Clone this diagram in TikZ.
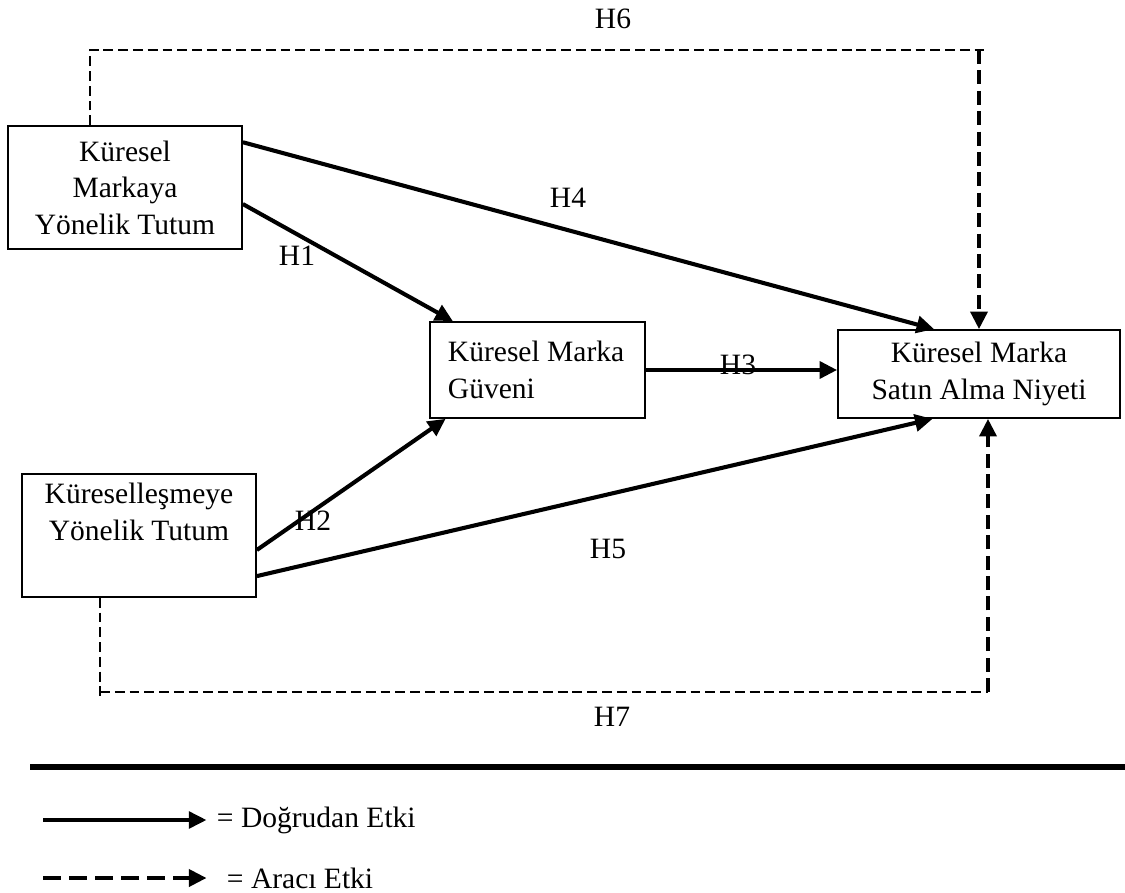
\documentclass[tikz,border=0pt]{standalone}
\usepackage{fontspec}
\setmainfont{Liberation Serif}
\usetikzlibrary{arrows.meta}
\newcommand{\hfont}{\fontsize{21}{26}\selectfont}
\tikzset{Tip/.style={-{Triangle[length=12.5pt, width=12pt]}}}

\begin{document}
\begin{tikzpicture}[x=0.025cm, y=-0.025cm, font=\hfont,
        Box/.style={rectangle, draw=black, line width=1.2pt, inner sep=0pt},
        Direct/.style={Tip, line width=2.9pt},
        Mediate/.style={line width=2.8pt, dash pattern=on 10pt off 4.5pt},
        MediateThin/.style={line width=1.8pt, dash pattern=on 7pt off 3.5pt}]
        % \draw[help lines, gray] (0,0) grid (1125,893);
        \useasboundingbox (0,0) rectangle (1125,893);

        \node[Box, align=center, minimum width=5.85cm, minimum height=3.075cm] (KMYT) at (125,187.5) {Küresel\\Markaya\\Yönelik Tutum};
        \node[Box, align=center, minimum width=5.85cm, minimum height=3.075cm] (KYT) at (139,535.5) {Küreselleşmeye\\Yönelik Tutum\\\strut};
        \node[Box, align=flush left, text width=4.475cm, inner xsep=0.45cm, minimum height=2.4cm] (KMG) at (537.5,370) {Küresel Marka\\Güveni};
        \node[Box, align=center, minimum width=7.05cm, minimum height=2.2cm] (KMSAN) at (979,374) {Küresel Marka\\Satın Alma Niyeti};

        \draw[Direct] (KMYT.21) -- (KMSAN.135);
        \draw[Direct] (KMYT.-8) -- (KMG.150);
        \draw[Direct] (KMG.east) -- (KMG.east -| KMSAN.west);
        \draw[Direct] (KYT.-7) -- (KMG.208);
        \draw[Direct] (KYT.-19) -- (KMSAN.224);

        \coordinate (h6a) at (90,50);
        \coordinate (h6b) at (988,50);
        \draw[MediateThin] (KMYT.north -| h6a) -- (h6a) -- (h6b);
        \draw[Mediate, Tip] (KMSAN.north |- h6a) -- (KMSAN.north);

        \coordinate (h7a) at (100,692);
        \coordinate (h7b) at (988,692);
        \draw[MediateThin] (KYT.south -| h7a) -- ([yshift=-4pt]h7a);
        \draw[MediateThin] (h7a) -- (h7b);
        \draw[Mediate, Tip] (h7b) -- (h7b |- KMSAN.south);

        \node (H1) at (297,256) {H1};
        \node (H2) at (313,521) {H2};
        \node (H3) at (738,365) {H3};
        \node (H4) at (568,198) {H4};
        \node (H5) at (608,549) {H5};
        \node (H6) at (613,19) {H6};
        \node (H7) at (612,717) {H7};

        % legend
        \coordinate (r0) at (30,767);
        \coordinate (r1) at (1125,767);
        \draw[line width=4.5pt] (r0) -- (r1);
        \coordinate (ld0) at (43,820);
        \node[anchor=west] (ldir) at (212,820) {= Doğrudan Etki};
        \draw[Tip, line width=2.3pt, shorten >=4pt] (ld0) -- (ldir.west);
        \coordinate (lm0) at (43,878);
        \node[anchor=west] (lmed) at (222,878) {= Aracı Etki};
        \draw[Tip, line width=2.8pt, dash pattern=on 13pt off 5.5pt] (lm0) -- ([xshift=-11pt]lmed.west);

    \end{tikzpicture}
\end{document}
